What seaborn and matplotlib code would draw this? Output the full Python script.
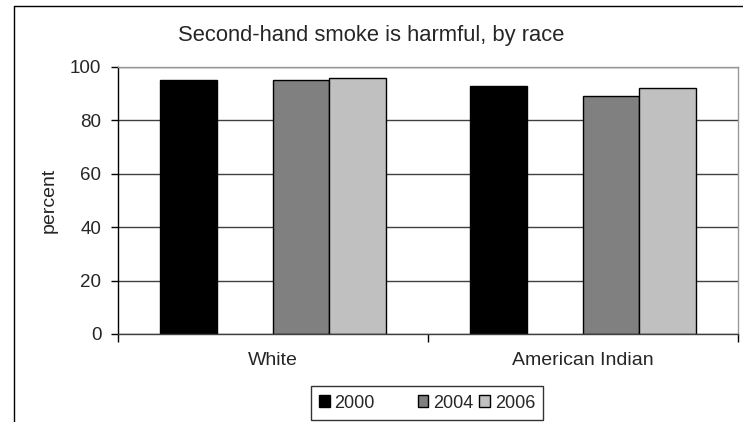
import numpy as np
import pandas as pd
import matplotlib.pyplot as plt
import seaborn as sns
from matplotlib.patches import Patch
from matplotlib.lines import Line2D

races = ['White', 'American Indian']
years = ['2000', '2004', '2006']
v2000 = [95, 93]
v2004 = [95, 89]
v2006 = [96, 92]
colors = {'2000': '#000000', 'gap': '#ffffff', '2004': '#808080', '2006': '#c0c0c0'}

rows = []
for yr, vals in zip(years, [v2000, v2004, v2006]):
    for r, v in zip(races, vals):
        rows.append({'race': r, 'year': yr, 'percent': v})
df = pd.DataFrame(rows)

sns.set_style('white')
plt.rcParams['font.family'] = ['Liberation Sans', 'DejaVu Sans']

fig = plt.figure(figsize=(7.43, 4.22), dpi=100)
ax = fig.add_axes([118 / 743, 1 - 334 / 422, 620 / 743, 267 / 422])

# 'gap' is an empty slot between 2000 and 2004, like in the original
sns.barplot(data=df, x='race', y='percent', hue='year', order=races,
            hue_order=['2000', 'gap', '2004', '2006'], palette=colors,
            width=0.726, edgecolor='black', linewidth=1, legend=False,
            errorbar=None, saturation=1, ax=ax)

ax.set_xlim(-0.5, 1.5)
ax.set_ylim(0, 100)
ax.set_yticks([0, 20, 40, 60, 80, 100])
ax.yaxis.grid(True, color='#404040', linewidth=1)
ax.set_axisbelow(True)

for s in ['top', 'right']:
    ax.spines[s].set_color('#999999')
ax.spines['left'].set_color('black')
ax.spines['bottom'].set_color('#404040')
for s in ax.spines.values():
    s.set_linewidth(1)

ax.set_xticks([-0.5, 0.5, 1.5])
ax.set_xticklabels(['', '', ''])
ax.set_xticks([0, 1], minor=True)
ax.set_xticklabels(races, minor=True)
ax.tick_params(axis='x', which='major', direction='out', length=6, width=1,
               color='black', bottom=True)
ax.tick_params(axis='x', which='minor', length=0, pad=13, labelsize=14)
ax.tick_params(axis='y', direction='out', length=5, width=1, color='black',
               left=True, pad=7, labelsize=13.5)

ax.set_xlabel('')
ax.set_ylabel('percent', fontsize=14)
ax.yaxis.set_label_coords(-0.098, 0.5)

fig.text(0.5, 1 - 35 / 422, 'Second-hand smoke is harmful, by race',
         ha='center', va='center', fontsize=15.8)

handles = [Patch(facecolor=colors['2000'], edgecolor='black'),
           Patch(visible=False),
           Patch(facecolor=colors['2004'], edgecolor='black'),
           Patch(facecolor=colors['2006'], edgecolor='black')]
labels = ['2000', '   ', '2004', '2006']
leg = fig.legend(handles, labels, loc='center', ncol=4,
                 bbox_to_anchor=(427 / 743, 1 - 403 / 422),
                 fontsize=13, frameon=True, fancybox=False,
                 edgecolor='black', handlelength=0.6, handleheight=0.6,
                 handletextpad=0.25, columnspacing=0.35, borderpad=0.45,
                 borderaxespad=0)
leg.get_frame().set_linewidth(1)

# outer chart frame (left and top edges only visible)
fig.add_artist(Line2D([14 / 743, 14 / 743], [0, 1 - 6 / 422],
                      transform=fig.transFigure, color='black', linewidth=1))
fig.add_artist(Line2D([14 / 743, 1], [1 - 6 / 422, 1 - 6 / 422],
                      transform=fig.transFigure, color='black', linewidth=1))

fig.savefig('out.png', dpi=100)
